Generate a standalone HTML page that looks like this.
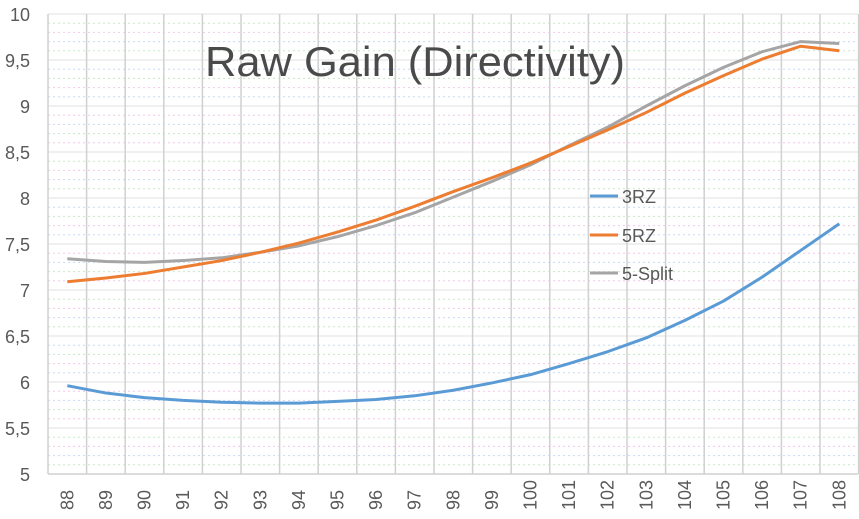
<!DOCTYPE html>
<html><head><meta charset="utf-8"><style>
html,body{margin:0;padding:0;background:#fff;}
svg{display:block;font-family:"Liberation Sans",sans-serif;}
</style></head><body>
<svg id="c" width="859" height="519" xmlns="http://www.w3.org/2000/svg"></svg>
<script>
const s=document.getElementById('c');let h='';
const L=48,B=474,T=14,W=38.6;
const Y=v=>B-(v-5)*92, X=i=>L+W/2+i*W;
const cols=['#f4c8e8','#c8e8c8','#c8d8f4'];
for(let k=1;k<50;k++){if(k%5==0)continue;const y=Y(5+k*0.1);
h+=`<line x1="${L}" x2="858" y1="${y}" y2="${y}" stroke="${cols[k%3]}" stroke-width="1" stroke-dasharray="2,3"/>`;}
for(let k=0;k<=10;k++){const y=Y(5+k*0.5);h+=`<line x1="${L}" x2="858" y1="${y}" y2="${y}" stroke="#e0e0e0" stroke-width="1"/>`;
h+=`<text x="30" y="${y+7}" text-anchor="end" font-size="18" fill="#595959">${(5+k*0.5).toString().replace('.',',')}</text>`;}
for(let i=0;i<=21;i++){const x=L+i*W;h+=`<line x1="${x}" x2="${x}" y1="${T}" y2="${B}" stroke="#d0d0d0" stroke-width="1.5"/>`;}
h+=`<line x1="${L}" x2="858" y1="${B}" y2="${B}" stroke="#d0d0d0" stroke-width="1.5"/>`;
for(let i=0;i<21;i++){const x=X(i)+6;h+=`<text transform="translate(${x},${510}) rotate(-90)" font-size="18" fill="#595959">${88+i}</text>`;}
const d={
'#5b9bd5':[5.96,5.88,5.83,5.80,5.78,5.77,5.77,5.79,5.81,5.85,5.91,5.99,6.08,6.2,6.33,6.48,6.67,6.88,7.14,7.43,7.72],
'#a5a5a5':[7.34,7.31,7.30,7.32,7.35,7.41,7.48,7.58,7.70,7.84,8.01,8.18,8.36,8.57,8.77,9.00,9.22,9.42,9.59,9.70,9.68],
'#ed7d31':[7.09,7.13,7.18,7.25,7.32,7.41,7.51,7.63,7.76,7.91,8.07,8.22,8.38,8.56,8.74,8.93,9.14,9.33,9.51,9.65,9.60]};
for(const c in d){h+=`<polyline fill="none" stroke="${c}" stroke-width="3" stroke-linejoin="round" points="${d[c].map((v,i)=>X(i)+','+Y(v)).join(' ')}"/>`;}
h+=`<text x="205" y="76" font-size="42" fill="#4a4a4a" textLength="420" lengthAdjust="spacingAndGlyphs">Raw Gain (Directivity)</text>`;
[['#5b9bd5','3RZ',196],['#ed7d31','5RZ',235],['#a5a5a5','5-Split',273]].forEach(([c,t,y])=>{
h+=`<line x1="590" x2="618" y1="${y}" y2="${y}" stroke="${c}" stroke-width="3"/><text x="622" y="${y+7}" font-size="18" fill="#595959">${t}</text>`;});
s.innerHTML=h;
</script>
</body></html>
